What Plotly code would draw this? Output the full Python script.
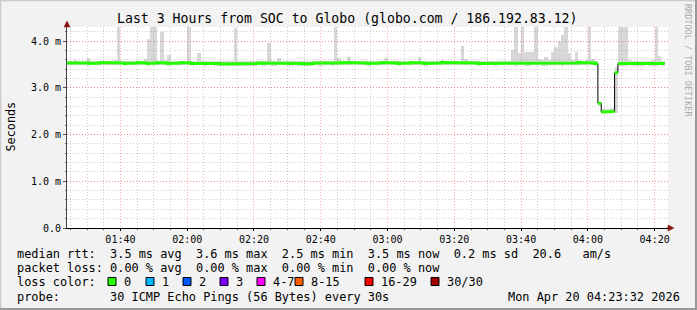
import plotly.graph_objects as go
import pandas as pd

# ---------------- data ----------------
start_time = "2026-04-20 01:24:00"
end_time = "2026-04-20 04:24:00"

median_ms = [
    3.53, 3.53, 3.54, 3.53, 3.53, 3.54, 3.53, 3.52, 3.53, 3.53, 3.54, 3.53, 3.53, 3.53, 3.54, 3.53, 3.53, 3.52, 3.53, 3.53,
    3.53, 3.54, 3.53, 3.53, 3.52, 3.53, 3.53, 3.54, 3.53, 3.53, 3.52, 3.53, 3.53, 3.53, 3.54, 3.53, 3.53, 3.52, 3.53, 3.53,
    3.53, 3.52, 3.53, 3.53, 3.52, 3.52, 3.51, 3.52, 3.52, 3.52, 3.51, 3.51, 3.52, 3.52, 3.51, 3.52, 3.52, 3.53, 3.52, 3.52,
    3.53, 3.52, 3.52, 3.53, 3.53, 3.53, 3.52, 3.52, 3.53, 3.52, 3.52, 3.51, 3.52, 3.52, 3.53, 3.52, 3.52, 3.53, 3.53, 3.52,
    3.53, 3.53, 3.54, 3.53, 3.53, 3.53, 3.54, 3.53, 3.53, 3.53, 3.52, 3.53, 3.53, 3.53, 3.54, 3.53, 3.53, 3.53, 3.53, 3.52,
    3.53, 3.53, 3.53, 3.54, 3.53, 3.53, 3.53, 3.52, 3.53, 3.53, 3.53, 3.53, 3.54, 3.53, 3.53, 3.53, 3.53, 3.53, 3.54, 3.53,
    3.53, 3.53, 3.53, 3.52, 3.53, 3.53, 3.53, 3.53, 3.52, 3.53, 3.53, 3.53, 3.53, 3.53, 3.52, 3.53, 3.53, 3.52, 3.52, 3.53,
    3.53, 3.53, 3.52, 3.52, 3.53, 3.53, 3.53, 3.53, 3.52, 3.53, 3.53, 3.53, 3.53, 3.54, 3.53, 3.53, 3.53, 3.53, 3.52, 2.67,
    2.48, 2.48, 2.48, 2.49, 3.32, 3.52, 3.52, 3.52, 3.53, 3.52, 3.52, 3.52, 3.52, 3.53, 3.52, 3.52, 3.52, 3.53, 3.52,
]

smoke_hi_ms = [
    3.58, 3.58, 3.59, 3.58, 3.58, 3.58, 3.63, 3.58, 3.58, 3.58, 3.57, 3.58, 3.58, 3.58, 3.59, 4.60, 3.58, 3.58, 3.58, 3.58,
    3.58, 3.58, 3.58, 3.62, 4.05, 4.60, 4.60, 3.58, 4.20, 3.59, 3.70, 3.58, 3.58, 3.58, 3.58, 3.58, 4.60, 3.58, 3.58, 3.74,
    3.58, 3.58, 3.58, 3.58, 3.58, 3.57, 3.57, 3.58, 3.57, 3.57, 4.28, 3.57, 3.57, 3.58, 3.57, 3.57, 3.58, 3.58, 3.57, 3.58,
    3.96, 3.58, 3.58, 3.63, 3.58, 3.58, 3.58, 3.57, 3.58, 3.57, 3.58, 3.57, 3.58, 3.58, 3.58, 3.58, 3.57, 3.58, 3.58, 3.57,
    4.60, 3.64, 3.58, 3.58, 3.66, 3.58, 3.58, 3.58, 3.58, 3.58, 3.57, 3.58, 3.58, 3.58, 3.58, 3.64, 3.58, 3.58, 3.58, 3.57,
    3.58, 3.58, 3.58, 3.58, 3.58, 3.65, 3.58, 3.57, 3.58, 3.58, 3.58, 3.58, 3.59, 3.58, 3.58, 3.58, 3.58, 3.58, 3.90, 3.62,
    3.58, 3.58, 3.58, 3.58, 3.58, 3.58, 3.58, 3.58, 3.57, 3.58, 3.58, 3.58, 3.58, 3.80, 4.60, 3.74, 4.60, 3.76, 3.76, 3.76,
    4.60, 3.62, 3.60, 3.66, 3.60, 3.76, 3.87, 4.00, 4.13, 4.60, 3.74, 3.60, 3.76, 3.60, 3.58, 3.60, 4.60, 3.62, 3.58, 2.70,
    2.54, 2.54, 2.54, 2.56, 3.45, 4.60, 4.60, 4.60, 3.60, 3.58, 3.58, 3.58, 3.58, 3.58, 3.58, 3.59, 4.60, 3.68, 3.58,
]

smoke_lo_ms = [
    3.48, 3.48, 3.49, 3.48, 3.48, 3.48, 3.47, 3.48, 3.48, 3.48, 3.48, 3.48, 3.48, 3.48, 3.49, 3.48, 3.48, 3.47, 3.48, 3.48,
    3.48, 3.48, 3.48, 3.48, 3.47, 3.48, 3.48, 3.49, 3.48, 3.48, 3.47, 3.48, 3.48, 3.48, 3.48, 3.48, 3.48, 3.47, 3.48, 3.48,
    3.48, 3.47, 3.48, 3.48, 3.47, 3.47, 3.46, 3.47, 3.47, 3.47, 3.46, 3.46, 3.47, 3.47, 3.46, 3.47, 3.47, 3.48, 3.47, 3.47,
    3.48, 3.47, 3.47, 3.48, 3.48, 3.48, 3.47, 3.47, 3.48, 3.47, 3.47, 3.46, 3.47, 3.47, 3.48, 3.47, 3.47, 3.48, 3.48, 3.47,
    3.48, 3.48, 3.49, 3.48, 3.48, 3.48, 3.49, 3.48, 3.48, 3.48, 3.47, 3.48, 3.48, 3.48, 3.49, 3.48, 3.48, 3.48, 3.48, 3.47,
    3.48, 3.48, 3.48, 3.49, 3.48, 3.48, 3.48, 3.47, 3.48, 3.48, 3.48, 3.48, 3.49, 3.48, 3.48, 3.48, 3.48, 3.48, 3.49, 3.48,
    3.48, 3.48, 3.48, 3.47, 3.48, 3.48, 3.48, 3.48, 3.47, 3.48, 3.48, 3.48, 3.48, 3.48, 3.47, 3.48, 3.48, 3.47, 3.47, 3.48,
    3.48, 3.48, 3.47, 3.47, 3.48, 3.48, 3.48, 3.48, 3.47, 3.48, 3.48, 3.48, 3.48, 3.49, 3.48, 3.48, 3.48, 3.48, 3.47, 2.62,
    2.45, 2.45, 2.45, 2.45, 2.47, 3.46, 3.47, 3.47, 3.48, 3.47, 3.47, 3.47, 3.47, 3.48, 3.47, 3.47, 3.47, 3.48, 3.47,
]

y_tick_vals = [0, 1, 2, 3, 4]
y_tick_text = ["0.0", "1.0 m", "2.0 m", "3.0 m", "4.0 m"]

loss_labels = ["0", "1", "2", "3", "4-7", "8-15", "16-29", "30/30"]
loss_colors = ["#26ff00", "#00b8ff", "#0059ff", "#7e00ff", "#ff00ff", "#ff5e00", "#ff0000", "#a10000"]

title_text = "Last 3 Hours from SOC to Globo (globo.com / 186.192.83.12)"
y_title = "Seconds"
side_text = "RRDTOOL / TOBI OETIKER"
legend_lines = [
    "median rtt:  3.5 ms avg  3.6 ms max  2.5 ms min  3.5 ms now  0.2 ms sd  20.6   am/s",
    "packet loss: 0.00 % avg  0.00 % max  0.00 % min  0.00 % now",
    "loss color:",
    "probe:       30 ICMP Echo Pings (56 Bytes) every 30s",
]
date_text = "Mon Apr 20 04:23:32 2026"

# ---------------- geometry ----------------
W, H = 697, 310
L, R, T, B = 67, 668, 27, 228
MONO = "DejaVu Sans Mono"
LEG_SIZE = 11.9


def px(xp):
    return (xp - L) / (R - L)


def py(yp):
    return (B - yp) / (B - T)


def nb(s):
    return s.replace(" ", "\u00a0")


step = pd.Timedelta(seconds=60)
t_edges = pd.date_range(start_time, periods=len(median_ms) + 1, freq="60s")
t_mid = t_edges[:-1] + step / 2

fig = go.Figure()

# smoke
fig.add_trace(go.Bar(
    x=t_mid, y=[h - l for h, l in zip(smoke_hi_ms, smoke_lo_ms)], base=smoke_lo_ms,
    width=60000, marker=dict(color="rgba(140,140,140,0.34)", line=dict(width=0)),
    hoverinfo="skip", showlegend=False,
))

# black median step line
fig.add_trace(go.Scatter(
    x=list(t_edges), y=list(median_ms) + [median_ms[-1]], mode="lines",
    line=dict(color="#000000", width=1, shape="hv"), hoverinfo="skip", showlegend=False,
))

# green median segments (loss 0 colour), broken at large jumps
gx, gy = [t_edges[0]], [median_ms[0]]
for i, v in enumerate(median_ms):
    gx.append(t_edges[i + 1]); gy.append(v)
    if i + 1 < len(median_ms):
        nv = median_ms[i + 1]
        if abs(nv - v) < 0.1:
            gx.append(t_edges[i + 1]); gy.append(nv)
        else:
            gx.append(None); gy.append(None)
            gx.append(t_edges[i + 1]); gy.append(nv)
fig.add_trace(go.Scatter(
    x=gx, y=gy, mode="lines", connectgaps=False,
    line=dict(color=loss_colors[0], width=3), hoverinfo="skip", showlegend=False,
))

grid_major = "rgba(255,70,70,0.45)"
grid_minor = "rgba(140,140,140,0.45)"

fig.update_layout(
    width=W, height=H,
    margin=dict(l=L, r=W - R, t=T, b=H - B, pad=0),
    paper_bgcolor="#f2f2f2", plot_bgcolor="#ffffff",
    showlegend=False, bargap=0,
    font=dict(family=MONO, color="#000000"),
    xaxis=dict(
        type="date", range=[start_time, end_time],
        tick0="2026-04-20 00:00:00", dtick=1200000, tickformat="%H:%M",
        showgrid=True, gridcolor=grid_major, griddash="1px,2px", gridwidth=1,
        ticks="outside", ticklen=2, tickcolor="#000",
        minor=dict(dtick=300000, tick0="2026-04-20 00:00:00", showgrid=True,
                   gridcolor=grid_minor, griddash="1px,2px", ticks="outside", ticklen=1, tickcolor="#555"),
        showline=True, linecolor="#000000", linewidth=1, zeroline=False,
        tickfont=dict(family=MONO, size=10, color="#000"),
        fixedrange=True,
    ),
    yaxis=dict(
        range=[0, 4.3], tickmode="array", tickvals=y_tick_vals, ticktext=y_tick_text,
        showgrid=True, gridcolor=grid_major, griddash="1px,2px", gridwidth=1,
        ticks="outside", ticklen=3, tickcolor="#555",
        minor=dict(tickmode="linear", tick0=0, dtick=0.2, showgrid=True,
                   gridcolor=grid_minor, griddash="1px,2px", ticks="outside", ticklen=1, tickcolor="#777"),
        showline=True, linecolor="#444444", linewidth=1, zeroline=False,
        tickfont=dict(family=MONO, size=10, color="#000"),
        fixedrange=True,
    ),
)

ann = []
shapes = []

# title
ann.append(dict(text=nb(title_text), x=px(347.5), y=py(19), xref="paper", yref="paper",
                xanchor="center", yanchor="middle", showarrow=False,
                font=dict(family=MONO, size=13.2, color="#000")))
# y title
ann.append(dict(text=y_title, x=px(10.5), y=py(127), xref="paper", yref="paper",
                xanchor="center", yanchor="middle", showarrow=False, textangle=-90,
                font=dict(family=MONO, size=11.8, color="#000")))
# side text
ann.append(dict(text=nb(side_text), x=px(688), y=py(60), xref="paper", yref="paper",
                xanchor="center", yanchor="middle", showarrow=False, textangle=90,
                font=dict(family=MONO, size=8.5, color="#aaaaaa")))

# legend lines
line_y = [253.5, 268, 282, 296.5]
for txt, yy in zip(legend_lines, line_y):
    ann.append(dict(text=nb(txt), x=px(15), y=py(yy), xref="paper", yref="paper",
                    xanchor="left", yanchor="middle", showarrow=False,
                    font=dict(family=MONO, size=LEG_SIZE, color="#000")))
ann.append(dict(text=nb(date_text), x=px(682), y=py(296.5), xref="paper", yref="paper",
                xanchor="right", yanchor="middle", showarrow=False,
                font=dict(family=MONO, size=LEG_SIZE, color="#000")))

# loss colour boxes
box_left = [108, 146, 183, 220, 257, 295, 365, 431]
for bx, lab, col in zip(box_left, loss_labels, loss_colors):
    shapes.append(dict(type="rect", xref="paper", yref="paper",
                       x0=px(bx), x1=px(bx + 8), y0=py(285.5), y1=py(277.5),
                       fillcolor=col, line=dict(color="#000", width=1)))
    ann.append(dict(text=nb(lab), x=px(bx + 14), y=py(282), xref="paper", yref="paper",
                    xanchor="left", yanchor="middle", showarrow=False,
                    font=dict(family=MONO, size=LEG_SIZE, color="#000")))

# arrows
arrow_col = "#8b1010"
shapes.append(dict(type="path", xref="paper", yref="paper",
                   path=f"M {px(64)} {py(27)} L {px(70)} {py(27)} L {px(67)} {py(21)} Z",
                   fillcolor=arrow_col, line=dict(color=arrow_col, width=0.5)))
shapes.append(dict(type="line", xref="paper", yref="paper",
                   x0=px(667), x1=px(670), y0=py(228), y1=py(228), line=dict(color="#000", width=1)))
shapes.append(dict(type="path", xref="paper", yref="paper",
                   path=f"M {px(668)} {py(225)} L {px(668)} {py(231)} L {px(674)} {py(228)} Z",
                   fillcolor=arrow_col, line=dict(color=arrow_col, width=0.5)))

# 3D frame
shapes.append(dict(type="line", xref="paper", yref="paper", x0=px(0), x1=px(697), y0=py(0.5), y1=py(0.5),
                   line=dict(color="#cbcbcb", width=1.5)))
shapes.append(dict(type="line", xref="paper", yref="paper", x0=px(0.5), x1=px(0.5), y0=py(0), y1=py(310),
                   line=dict(color="#cbcbcb", width=1.5)))
shapes.append(dict(type="line", xref="paper", yref="paper", x0=px(0), x1=px(697), y0=py(309), y1=py(309),
                   line=dict(color="#999999", width=2)))
shapes.append(dict(type="line", xref="paper", yref="paper", x0=px(696), x1=px(696), y0=py(0), y1=py(310),
                   line=dict(color="#999999", width=2)))

fig.update_layout(annotations=ann, shapes=shapes)

fig.write_html("out.html", config={"displayModeBar": False})
